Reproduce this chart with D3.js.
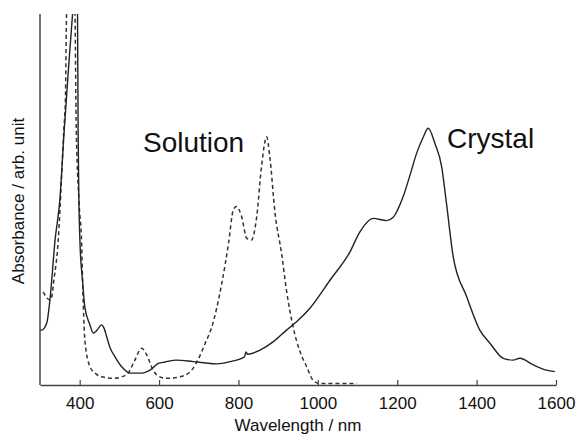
<!DOCTYPE html>
<html>
<head>
<meta charset="utf-8">
<script src="https://cdn.jsdelivr.net/npm/d3@7"></script>
<style>
  body { margin: 0; background: #fff; }
  svg text { font-family: "Liberation Sans", Arial, sans-serif; fill: #111; }
</style>
</head>
<body>
<svg class="chart" width="579" height="435"></svg>
<script>
// wavelength (nm) / absorbance (arb.)
const crystalNm = [300, 304, 317, 325, 338, 350, 361, 371, 382, 388, 394.5, 396, 398, 401, 407, 413, 426, 434, 444, 455, 461, 468, 476, 489, 506, 527, 556, 577, 598, 615, 644, 686, 745, 779, 815, 819, 823, 854, 888, 921, 947, 980, 1031, 1081, 1106, 1140, 1173, 1190, 1200, 1215, 1232, 1249, 1266, 1278, 1295, 1312, 1324, 1341, 1375, 1408, 1434, 1467, 1492, 1509, 1543, 1576, 1597]
const crystalAbs = [14.8, 14.8, 16.7, 22.9, 39.1, 49.9, 68.7, 84.1, 100, 108, 100, 68.7, 50, 37.7, 28.3, 21.0, 16.2, 14.0, 14.8, 16.2, 15.4, 13.0, 10.2, 7.6, 4.9, 3.2, 3.2, 4.0, 5.8, 6.2, 6.7, 6.3, 5.7, 6.3, 7.6, 8.9, 8.3, 9.4, 11.7, 14.8, 17.1, 20.7, 28.3, 35.9, 41.3, 44.9, 44.3, 45.2, 47.0, 50.8, 56.5, 62.5, 66.9, 69.2, 65.1, 58.8, 49.0, 34.6, 23.8, 14.8, 11.2, 7.2, 6.7, 7.2, 5.4, 4.0, 3.6]

const solutionNm = [308, 325, 329, 335, 346, 354, 360, 364, 367, 377, 388, 391, 398, 405, 408, 413, 426, 439, 455, 489, 506, 522, 539, 556, 569, 585, 602, 619, 653, 682, 699, 716, 733, 758, 775, 787, 795, 808, 821, 833, 846, 858, 871, 879, 892, 909, 921, 938, 955, 972, 988, 1005, 1098]
const solutionAbs = [25.1, 22.9, 23.5, 28.3, 39.1, 55.3, 68.7, 76.8, 100, 110, 100, 71.4, 49.9, 37.7, 25.6, 12.1, 4.9, 3.2, 2.2, 1.8, 2.2, 3.2, 6.7, 9.9, 8.1, 4.0, 2.2, 1.8, 2.2, 4.0, 7.0, 11.2, 15.7, 27.4, 38.2, 47.2, 48.1, 45.4, 39.5, 39.1, 45.4, 58.8, 66.9, 61.5, 46.5, 35.2, 25.5, 15.5, 9.0, 4.9, 1.3, 0.4, 0.4]

const xTicks = [400, 600, 800, 1000, 1200, 1400, 1600]

const svg = d3.select("svg.chart")

const x = d3.scaleLinear().domain([300, 1600]).range([40, 556])
const y = d3.scaleLinear().domain([0, 100]).range([385, 14])

svg.append("clipPath")
  .attr("id", "plot")
  .append("rect")
  .attr("x", 40).attr("y", 14)
  .attr("width", 516).attr("height", 371)

const line = d3.line()
  .x(d => x(d[0]))
  .y(d => y(d[1]))
  .curve(d3.curveMonotoneX)

svg.append("path")
  .datum(d3.zip(solutionNm, solutionAbs))
  .attr("clip-path", "url(#plot)")
  .attr("fill", "none")
  .attr("stroke", "#333")
  .attr("stroke-width", 1.5)
  .attr("stroke-dasharray", "4,3")
  .attr("d", line)

svg.append("path")
  .datum(d3.zip(crystalNm, crystalAbs))
  .attr("clip-path", "url(#plot)")
  .attr("fill", "none")
  .attr("stroke", "#222")
  .attr("stroke-width", 1.4)
  .attr("d", line)

// axes: ticks point inward, no y ticks
const xAxis = svg.append("g")
  .attr("transform", "translate(0,385)")
  .call(d3.axisBottom(x).tickValues(xTicks).tickFormat(d3.format("d"))
    .tickSizeInner(-5).tickSizeOuter(0).tickPadding(12))
xAxis.select(".domain").attr("stroke", "#444").attr("stroke-width", 1.5)
xAxis.selectAll(".tick line").attr("stroke", "#444").attr("stroke-width", 1.2)
xAxis.selectAll("text")
  .style("font-size", "17px")
  .attr("fill", "#111")

svg.append("line")
  .attr("x1", 40).attr("x2", 40)
  .attr("y1", 14).attr("y2", 385)
  .attr("stroke", "#444")
  .attr("stroke-width", 1.5)

svg.append("text")
  .attr("x", 298).attr("y", 431)
  .attr("text-anchor", "middle")
  .style("font-size", "17px")
  .text("Wavelength / nm")

svg.append("text")
  .attr("transform", "translate(24,201) rotate(-90)")
  .attr("text-anchor", "middle")
  .style("font-size", "17px")
  .text("Absorbance / arb. unit")

svg.append("text")
  .attr("x", 143).attr("y", 152)
  .style("font-size", "28px")
  .text("Solution")

svg.append("text")
  .attr("x", 447).attr("y", 148)
  .style("font-size", "28px")
  .text("Crystal")
</script>
</body>
</html>
